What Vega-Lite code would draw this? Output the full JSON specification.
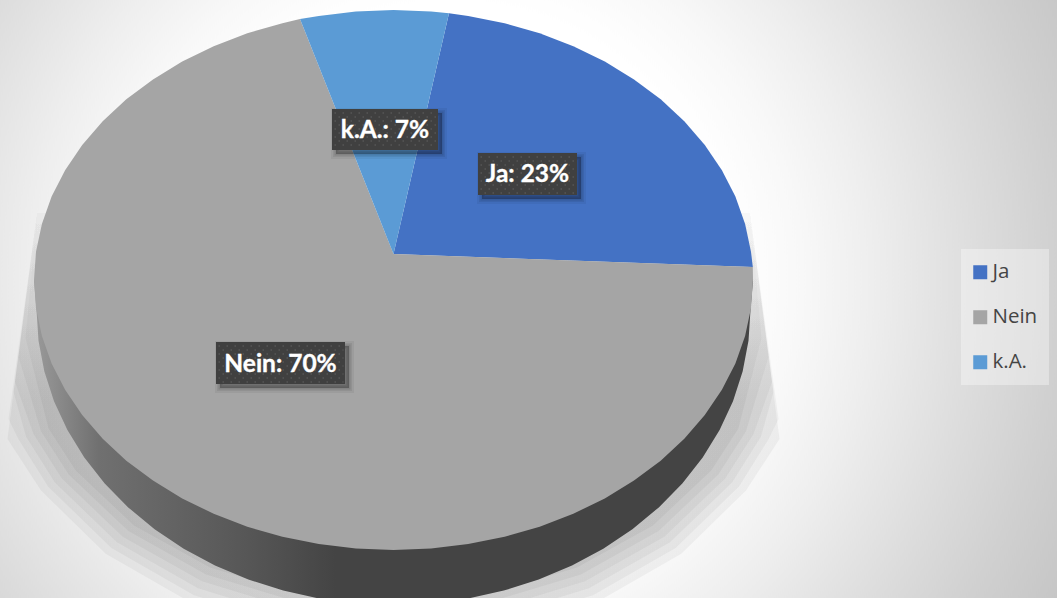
{
  "$schema": "https://vega.github.io/schema/vega-lite/v6.json",
  "width": 1057,
  "height": 598,
  "padding": 0,
  "autosize": {"type": "fit", "contains": "padding"},
  "background": "#ececec",
  "view": {"stroke": null},
  "projection": {"type": "identity", "reflectY": true, "scale": 1, "translate": [393.5, 254]},
  "datasets": {
    "box": [
      {"type": "Feature", "properties": {"slice": "Ja"}, "geometry": {"type": "Polygon", "coordinates": [[[84.5,101],[183.5,101],[183.5,59],[84.5,59],[84.5,101]]]}},
      {"type": "Feature", "properties": {"slice": "Nein"}, "geometry": {"type": "Polygon", "coordinates": [[[-177.5,-88],[-48.5,-88],[-48.5,-130],[-177.5,-130],[-177.5,-88]]]}},
      {"type": "Feature", "properties": {"slice": "k.A."}, "geometry": {"type": "Polygon", "coordinates": [[[-61.5,145],[44.5,145],[44.5,104],[-61.5,104],[-61.5,145]]]}}
    ],
    "boxShadow": [
      {"type": "Feature", "properties": {"slice": "Ja"}, "geometry": {"type": "Polygon", "coordinates": [[[88.5,97],[187.5,97],[187.5,55],[88.5,55],[88.5,97]]]}},
      {"type": "Feature", "properties": {"slice": "Nein"}, "geometry": {"type": "Polygon", "coordinates": [[[-173.5,-92],[-44.5,-92],[-44.5,-134],[-173.5,-134],[-173.5,-92]]]}},
      {"type": "Feature", "properties": {"slice": "k.A."}, "geometry": {"type": "Polygon", "coordinates": [[[-57.5,141],[48.5,141],[48.5,100],[-57.5,100],[-57.5,141]]]}}
    ]
  },
  "layer": [
    {
      "description": "Page backdrop, a square reaching past the page so the glow stays circular",
      "data": {"values": [{"type": "Feature", "properties": {}, "geometry": {"type": "Polygon", "coordinates": [[[-393.5,483.5],[663.5,483.5],[663.5,-573.5],[-393.5,-573.5],[-393.5,483.5]]]}}]},
      "mark": {"type": "geoshape", "stroke": null, "fill": {"gradient": "radial", "x1": 0.426, "y1": 0.482, "r1": 0, "x2": 0.426, "y2": 0.482, "r2": 0.662, "stops": [{"offset": 0, "color": "#ffffff"}, {"offset": 0.4, "color": "#ffffff"}, {"offset": 0.5, "color": "#f8f8f8"}, {"offset": 0.6, "color": "#eeeeee"}, {"offset": 0.757, "color": "#dcdcdc"}, {"offset": 0.867, "color": "#d0d0d0"}, {"offset": 0.954, "color": "#c8c8c8"}, {"offset": 1, "color": "#c4c4c4"}]}}
    },
    {
      "description": "Soft cast shadow, nested outlines fading outward",
      "data": {"values": [
        {"type": "Feature", "properties": {}, "geometry": {"type": "Polygon", "coordinates": [[[-356.5,41],[-386,-185],[-352.5,-236.5],[-287.8,-299.7],[-203.5,-348.1],[-105.3,-378.6],[0,-389],[105.3,-378.6],[203.5,-348.1],[287.8,-299.7],[352.5,-236.5],[386,-185],[356.5,41],[-356.5,41]]]}},
        {"type": "Feature", "properties": {}, "geometry": {"type": "Polygon", "coordinates": [[[-356.5,41],[-385,-165],[-374.9,-185.6],[-345.5,-232.5],[-282.1,-294],[-199.5,-341.2],[-103.3,-370.9],[0,-381],[103.3,-370.9],[199.5,-341.2],[282.1,-294],[345.5,-232.5],[374.9,-185.6],[385,-165],[356.5,41],[-356.5,41]]]}},
        {"type": "Feature", "properties": {}, "geometry": {"type": "Polygon", "coordinates": [[[-356.5,41],[-380,-138],[-367.4,-182.8],[-338.6,-228.5],[-276.5,-288.3],[-195.5,-334.3],[-101.3,-363.2],[0,-373],[101.3,-363.2],[195.5,-334.3],[276.5,-288.3],[338.6,-228.5],[367.4,-182.8],[380,-138],[356.5,41],[-356.5,41]]]}},
        {"type": "Feature", "properties": {}, "geometry": {"type": "Polygon", "coordinates": [[[-356.5,41],[-378.5,-128],[-360,-180],[-331.7,-224.5],[-270.8,-282.7],[-191.5,-327.3],[-99.2,-355.4],[0,-365],[99.2,-355.4],[191.5,-327.3],[270.8,-282.7],[331.7,-224.5],[360,-180],[378.5,-128],[356.5,41],[-356.5,41]]]}},
        {"type": "Feature", "properties": {}, "geometry": {"type": "Polygon", "coordinates": [[[-356.5,41],[-375,-103],[-352.4,-177.4],[-324.8,-220.5],[-265.1,-277],[-187.5,-320.4],[-97.1,-347.7],[0,-357],[97.1,-347.7],[187.5,-320.4],[265.1,-277],[324.8,-220.5],[352.4,-177.4],[375,-103],[356.5,41],[-356.5,41]]]}},
        {"type": "Feature", "properties": {}, "geometry": {"type": "Polygon", "coordinates": [[[-356.5,41],[-368,-84],[-344.9,-174.6],[-317.8,-216.5],[-259.5,-271.4],[-183.5,-313.5],[-95.1,-340],[0,-349],[95.1,-340],[183.5,-313.5],[259.5,-271.4],[317.8,-216.5],[344.9,-174.6],[368,-84],[356.5,41],[-356.5,41]]]}}
      ]},
      "mark": {"type": "geoshape", "stroke": null, "fill": {"gradient": "linear", "x1": 0, "y1": 0, "x2": 0, "y2": 1, "stops": [{"offset": 0, "color": "rgba(0,0,0,0.002)"}, {"offset": 0.3, "color": "rgba(0,0,0,0.03)"}, {"offset": 0.45, "color": "rgba(0,0,0,0.045)"}, {"offset": 1, "color": "rgba(0,0,0,0.045)"}]}}
    },
    {
      "description": "Side wall of the pie",
      "data": {"values": [{"type": "Feature", "properties": {}, "geometry": {"type": "Polygon", "coordinates": [[[-359.5,-26],[-357,-56],[-355,-86.8],[-349.2,-117.3],[-339.5,-147.2],[-326.1,-176],[-309.2,-203.5],[-288.8,-229.4],[-265.3,-253.4],[-238.9,-275.2],[-209.8,-294.7],[-178.5,-311.5],[-145.2,-325.5],[-110.3,-336.6],[-74.2,-344.6],[-37.3,-349.4],[0,-351],[37.3,-349.4],[74.2,-344.6],[110.3,-336.6],[145.2,-325.5],[178.5,-311.5],[209.8,-294.7],[238.9,-275.2],[265.3,-253.4],[288.8,-229.4],[309.2,-203.5],[326.1,-176],[339.5,-147.2],[349.2,-117.3],[355,-86.8],[357,-56],[359.5,-26],[-359.5,-26]]]}}]},
      "mark": {"type": "geoshape", "stroke": null, "fill": {"gradient": "linear", "x1": 0, "y1": 0, "x2": 1, "y2": 0, "stops": [{"offset": 0, "color": "#9a9a9a"}, {"offset": 0.09, "color": "#707070"}, {"offset": 0.3, "color": "#565656"}, {"offset": 0.42, "color": "#444444"}, {"offset": 1, "color": "#444444"}]}}
    },
    {
      "description": "Top face: one outline for each answer, with its share",
      "data": {"values": [
        {"type": "Feature", "properties": {"slice": "Ja", "value": 23}, "geometry": {"type": "Polygon", "coordinates": [[[0,0],[55.5,240.8],[74.7,238.1],[111.1,230.8],[146.2,220.7],[179.8,207.8],[211.3,192.4],[240.5,174.6],[267.2,154.7],[290.8,132.7],[311.3,109],[328.4,83.8],[341.9,57.4],[351.6,30.1],[357.5,2.2],[359.3,-13],[0,0]]]}},
        {"type": "Feature", "properties": {"slice": "Nein", "value": 70}, "geometry": {"type": "Polygon", "coordinates": [[[0,0],[359.3,-13],[359.5,-26],[357.5,-54.2],[351.6,-82.1],[341.9,-109.4],[328.4,-135.8],[311.3,-161],[290.8,-184.7],[267.2,-206.7],[240.5,-226.6],[211.3,-244.4],[179.8,-259.8],[146.2,-272.7],[111.1,-282.8],[74.7,-290.1],[37.6,-294.5],[0,-296],[-37.6,-294.5],[-74.7,-290.1],[-111.1,-282.8],[-146.2,-272.7],[-179.8,-259.8],[-211.3,-244.4],[-240.5,-226.6],[-267.2,-206.7],[-290.8,-184.7],[-311.3,-161],[-328.4,-135.8],[-341.9,-109.4],[-351.6,-82.1],[-357.5,-54.2],[-359.5,-26],[-357.5,2.2],[-351.6,30.1],[-341.9,57.4],[-328.4,83.8],[-311.3,109],[-290.8,132.7],[-267.2,154.7],[-240.5,174.6],[-211.3,192.4],[-179.8,207.8],[-146.2,220.7],[-111.1,230.8],[-93.5,235],[0,0]]]}},
        {"type": "Feature", "properties": {"slice": "k.A.", "value": 7}, "geometry": {"type": "Polygon", "coordinates": [[[0,0],[-93.5,235],[-74.7,238.1],[-37.6,242.5],[0,244],[37.6,242.5],[55.5,240.8],[0,0]]]}}
      ]},
      "mark": {"type": "geoshape", "stroke": null},
      "encoding": {
        "color": {
          "field": "properties.slice",
          "type": "nominal",
          "scale": {"domain": ["Ja", "Nein", "k.A."], "range": ["#4472C4", "#A5A5A5", "#5B9BD5"]},
          "legend": {
            "title": null,
            "orient": "none",
            "legendX": 970,
            "legendY": 262,
            "padding": 0,
            "symbolType": "square",
            "symbolSize": 196,
            "symbolStrokeWidth": 0,
            "labelFont": "Open Sans",
            "labelFontSize": 20.5,
            "labelColor": "#444444",
            "labelOffset": 2,
            "rowPadding": 24
          }
        }
      }
    },
    {
      "description": "Translucent panel behind the legend",
      "data": {"values": [{"type": "Feature", "properties": {}, "geometry": {"type": "Polygon", "coordinates": [[[567.5,5],[655.5,5],[655.5,-131],[567.5,-131],[567.5,5]]]}}]},
      "mark": {"type": "geoshape", "stroke": null, "fill": "#ffffff", "fillOpacity": 0.35}
    },
    {
      "description": "Soft shadow behind the data labels",
      "data": {"name": "boxShadow"},
      "mark": {"type": "geoshape", "fill": "#000000", "fillOpacity": 0.1, "stroke": "#000000", "strokeOpacity": 0.05, "strokeWidth": 10}
    },
    {
      "data": {"name": "boxShadow"},
      "mark": {"type": "geoshape", "fill": "#000000", "fillOpacity": 0.1, "stroke": "#000000", "strokeOpacity": 0.07, "strokeWidth": 6}
    },
    {
      "data": {"name": "boxShadow"},
      "mark": {"type": "geoshape", "fill": "#000000", "fillOpacity": 0.1, "stroke": "#000000", "strokeOpacity": 0.09, "strokeWidth": 3}
    },
    {
      "description": "Dark data label boxes",
      "data": {"name": "box"},
      "mark": {"type": "geoshape", "fill": "#404040", "stroke": null}
    },
    {
      "description": "Dotted texture on the label boxes: dashed rows, staggered by half a step",
      "data": {"values": [
        {"type": "Feature", "properties": {}, "geometry": {"type": "MultiLineString", "coordinates": [
          [[87,97],[182,97]],[[91,93],[182,93]],[[87,89],[182,89]],[[91,85],[182,85]],[[87,81],[182,81]],[[91,77],[182,77]],[[87,73],[182,73]],[[91,69],[182,69]],[[87,65],[182,65]],[[91,61],[182,61]],
          [[-175,-92],[-50,-92]],[[-171,-96],[-50,-96]],[[-175,-100],[-50,-100]],[[-171,-104],[-50,-104]],[[-175,-108],[-50,-108]],[[-171,-112],[-50,-112]],[[-175,-116],[-50,-116]],[[-171,-120],[-50,-120]],[[-175,-124],[-50,-124]],[[-171,-128],[-50,-128]],
          [[-59,141],[43,141]],[[-55,137],[43,137]],[[-59,133],[43,133]],[[-55,129],[43,129]],[[-59,125],[43,125]],[[-55,121],[43,121]],[[-59,117],[43,117]],[[-55,113],[43,113]],[[-59,109],[43,109]]
        ]}}
      ]},
      "mark": {"type": "geoshape", "filled": false, "fill": null, "stroke": "#555555", "strokeWidth": 1.5, "strokeDash": [1.5, 6.5]}
    },
    {
      "description": "Data label text",
      "data": {"values": [
        {"text": "Ja: 23%", "lon": 134, "lat": 79},
        {"text": "Nein: 70%", "lon": -113, "lat": -111},
        {"text": "k.A.: 7%", "lon": -8.5, "lat": 123}
      ]},
      "mark": {"type": "text", "font": "Lato", "fontWeight": "bold", "fontSize": 24.5, "color": "#ffffff", "stroke": "#ffffff", "strokeWidth": 0.35, "align": "center", "baseline": "middle"},
      "encoding": {
        "longitude": {"field": "lon", "type": "quantitative"},
        "latitude": {"field": "lat", "type": "quantitative"},
        "text": {"field": "text", "type": "nominal"}
      }
    }
  ]
}
